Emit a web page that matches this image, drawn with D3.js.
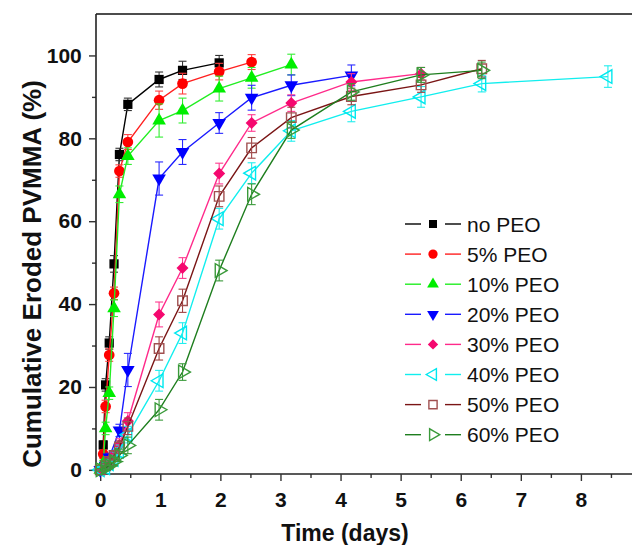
<!DOCTYPE html>
<html>
<head>
<meta charset="utf-8">
<script src="https://cdn.jsdelivr.net/npm/d3@7"></script>
<style>
  body { margin: 0; background: #fff; }
  svg { display: block; font-family: Arial, "Liberation Sans", sans-serif; }
</style>
</head>
<body>
<svg id="chart"></svg>
<script>
// series labels
const labels = ['no PEO', '5% PEO', '10% PEO', '20% PEO', '30% PEO', '40% PEO', '50% PEO', '60% PEO'];

// time (days), eroded (%), error (+/-) per series
const tNo = [0, 0.05, 0.09, 0.15, 0.23, 0.32, 0.46, 0.98, 1.37, 1.98];
const vNo = [0, 6, 20.5, 30.6, 49.7, 76.1, 88.2, 94.2, 96.4, 98.2];
const eNo = [0.3, 1, 1.5, 1.5, 2, 1.5, 1.5, 1.8, 2.2, 1.8];

const t5 = [0, 0.05, 0.09, 0.15, 0.23, 0.32, 0.46, 0.98, 1.37, 1.98, 2.52];
const v5 = [0, 3.8, 15.3, 27.7, 42.6, 72.1, 79.1, 89.2, 93.2, 96.1, 98.4];
const e5 = [0.3, 1, 1.5, 1.5, 1.5, 1.5, 1.8, 2.2, 2.5, 2, 1.8];

const t10 = [0, 0.05, 0.09, 0.15, 0.23, 0.32, 0.46, 0.98, 1.37, 1.98, 2.52, 3.18];
const v10 = [0, 1.5, 10, 18.5, 39, 66.5, 75.7, 84.3, 86.7, 92, 94.6, 97.8];
const e10 = [0.3, 0.8, 1.5, 1.5, 2, 2, 2, 4, 3, 3, 2.5, 2.5];

const t20 = [0, 0.09, 0.15, 0.32, 0.46, 0.98, 1.37, 1.98, 2.52, 3.18, 4.18];
const v20 = [0, 1, 3, 9.5, 24.1, 70.3, 76.7, 83.7, 89.8, 92.8, 95.2];
const e20 = [0.3, 0.5, 1, 1.5, 4, 4, 3, 2.5, 3, 2.5, 2.5];

const t30 = [0, 0.09, 0.15, 0.23, 0.32, 0.46, 0.98, 1.37, 1.98, 2.52, 3.18, 4.18, 5.34];
const v30 = [0, 1, 2, 3.5, 6, 11.8, 37.5, 48.7, 71.5, 83.7, 88.5, 93.6, 95.6];
const e30 = [0.3, 0.5, 0.8, 1, 1.5, 2, 3, 2.5, 2.5, 2, 2, 2, 1.5];

const t40 = [0, 0.09, 0.15, 0.23, 0.32, 0.46, 0.98, 1.37, 1.98, 2.52, 3.18, 4.18, 5.34, 6.35, 8.45];
const v40 = [0, 0.5, 1.5, 2.5, 4.5, 8.5, 21.5, 33, 60.6, 71.6, 81.8, 86.5, 90, 93.2, 94.9];
const e40 = [0.3, 0.5, 0.8, 1, 1.5, 2, 2.5, 2.5, 2.5, 2.5, 2.5, 2.5, 2.5, 2, 2.6];

const t50 = [0, 0.09, 0.15, 0.23, 0.32, 0.46, 0.98, 1.37, 1.98, 2.52, 3.18, 4.18, 5.34, 6.35];
const v50 = [0, 1, 2, 3.5, 5.5, 10.5, 29.3, 40.8, 66, 77.7, 85, 90.1, 92.9, 96.8];
const e50 = [0.3, 0.5, 0.8, 1, 1.5, 2, 2.8, 2.8, 2.5, 2.5, 2.5, 2, 1.8, 2];

const t60 = [0, 0.09, 0.15, 0.23, 0.32, 0.46, 0.98, 1.37, 1.98, 2.52, 3.18, 4.18, 5.34, 6.35];
const v60 = [0, 0.5, 1, 2, 3.5, 5.9, 14.5, 23.6, 48.1, 66.5, 82, 91.2, 95.3, 96.4];
const e60 = [0.3, 0.5, 0.8, 1, 1.5, 2, 2.5, 2, 2.5, 2.5, 2, 2, 1.8, 2];

const xTicks = [0, 1, 2, 3, 4, 5, 6, 7, 8];
const yTicks = [0, 20, 40, 60, 80, 100];

const W = 632, H = 545;
const svg = d3.select('#chart').attr('width', W).attr('height', H);

const x = d3.scaleLinear().domain([-0.07, 9.15]).range([96, 650]);
const y = d3.scaleLinear().domain([-1, 110]).range([474, 14]);

// styles
const styles = [
  { line: '#000000', bar: '#333333', fill: '#000000', shape: d3.symbolSquare, size: 85, rot: 0, open: false },
  { line: '#ff2020', bar: '#ff4040', fill: '#ff0000', shape: d3.symbolCircle, size: 90, rot: 0, open: false },
  { line: '#22ee22', bar: '#33ee33', fill: '#00ee00', shape: d3.symbolTriangle, size: 80, rot: 0, open: false },
  { line: '#1a1aff', bar: '#2a2aff', fill: '#0000ff', shape: d3.symbolTriangle, size: 80, rot: 180, open: false },
  { line: '#ff2a8a', bar: '#ff3a90', fill: '#f5086f', shape: d3.symbolSquare, size: 72, rot: 45, open: false },
  { line: '#11eeee', bar: '#22eeee', fill: '#00e8ef', shape: d3.symbolTriangle, size: 80, rot: -90, open: true },
  { line: '#7a1515', bar: '#a04545', fill: '#a05050', shape: d3.symbolSquare, size: 90, rot: 0, open: true },
  { line: '#1e7e1e', bar: '#3a9a3a', fill: '#3a9a3a', shape: d3.symbolTriangle, size: 80, rot: 90, open: true }
];

const raw = [[tNo, vNo, eNo], [t5, v5, e5], [t10, v10, e10], [t20, v20, e20],
             [t30, v30, e30], [t40, v40, e40], [t50, v50, e50], [t60, v60, e60]];

const series = raw.map((r, i) => ({
  name: labels[i],
  style: styles[i],
  pts: r[0].map((t, j) => ({ t: t, v: r[1][j], e: r[2][j] }))
}));

// axes
const g = svg.append('g');

g.append('line').attr('x1', 96).attr('x2', 660).attr('y1', 14).attr('y2', 14)
  .attr('stroke', '#111').attr('stroke-width', 1.6);

const xAxis = d3.axisBottom(x).tickValues(xTicks).tickSize(7).tickFormat(d3.format('d'));
const xMinor = d3.axisBottom(x).tickValues(d3.range(0.5, 9, 1)).tickSize(4).tickFormat('');
const yAxis = d3.axisLeft(y).tickValues(yTicks).tickSize(7).tickFormat(d3.format('d'));
const yMinor = d3.axisLeft(y).tickValues(d3.range(10, 110, 20)).tickSize(4).tickFormat('');

function styleAxis(sel) {
  sel.select('.domain').attr('stroke', '#222').attr('stroke-width', 1.6);
  sel.selectAll('.tick line').attr('stroke', '#333').attr('stroke-width', 1.4);
  sel.selectAll('.tick text').attr('font-size', 21).attr('font-weight', 'bold')
    .attr('fill', '#111');
}

g.append('g').attr('transform', 'translate(0,474)').call(xMinor).call(styleAxis)
  .select('.domain').remove();
g.append('g').attr('transform', 'translate(96,0)').call(yMinor).call(styleAxis)
  .select('.domain').remove();
const gx = g.append('g').attr('transform', 'translate(0,474)').call(xAxis).call(styleAxis);
gx.select('.domain').attr('d', 'M96,0H660');
gx.selectAll('.tick text').attr('dy', '1.1em');
const gy = g.append('g').attr('transform', 'translate(96,0)').call(yAxis).call(styleAxis);
gy.select('.domain').attr('d', 'M0,14V474');
gy.selectAll('.tick text').attr('dx', '-0.2em');

g.append('text').attr('x', 345).attr('y', 541).attr('text-anchor', 'middle')
  .attr('font-size', 23).attr('font-weight', 'bold').attr('fill', '#111')
  .text('Time (days)');
g.append('text').attr('transform', 'translate(41,274) rotate(-90)')
  .attr('text-anchor', 'middle').attr('font-size', 26).attr('font-weight', 'bold')
  .attr('fill', '#111').text('Cumulative Eroded PVMMA (%)');

// data
const line = d3.line().x(d => x(d.t)).y(d => y(d.v));
const plot = svg.append('g');

function marker(sel, st, k) {
  sel.attr('d', d3.symbol().type(st.shape).size(st.size * (k || 1))())
    .attr('fill', st.open ? '#fff' : st.fill)
    .attr('fill-opacity', st.open ? 0 : 1)
    .attr('stroke', st.open ? st.fill : 'none')
    .attr('stroke-width', 1.4);
}

series.forEach(s => {
  const st = s.style;
  const sg = plot.append('g');
  sg.append('path').datum(s.pts).attr('d', line).attr('fill', 'none')
    .attr('stroke', st.line).attr('stroke-width', 1.4);

  const eb = sg.selectAll('g.eb').data(s.pts).join('g').attr('class', 'eb')
    .attr('stroke', st.bar).attr('stroke-width', 1.1);
  eb.append('line').attr('x1', d => x(d.t)).attr('x2', d => x(d.t))
    .attr('y1', d => y(d.v - d.e)).attr('y2', d => y(d.v + d.e));
  eb.append('line').attr('x1', d => x(d.t) - 4).attr('x2', d => x(d.t) + 4)
    .attr('y1', d => y(d.v + d.e)).attr('y2', d => y(d.v + d.e));
  eb.append('line').attr('x1', d => x(d.t) - 4).attr('x2', d => x(d.t) + 4)
    .attr('y1', d => y(d.v - d.e)).attr('y2', d => y(d.v - d.e));

  sg.selectAll('path.mk').data(s.pts).join('path').attr('class', 'mk')
    .attr('transform', d => `translate(${x(d.t)},${y(d.v)}) rotate(${st.rot})`)
    .call(marker, st);
});

// legend
const leg = svg.append('g');
labels.forEach((name, i) => {
  const st = styles[i];
  const ly = 224 + i * 30.1;
  leg.append('line').attr('x1', 405).attr('x2', 421).attr('y1', ly).attr('y2', ly)
    .attr('stroke', st.line).attr('stroke-width', 1.4);
  leg.append('line').attr('x1', 445).attr('x2', 461).attr('y1', ly).attr('y2', ly)
    .attr('stroke', st.line).attr('stroke-width', 1.4);
  leg.append('path').attr('transform', `translate(433,${ly}) rotate(${st.rot})`)
    .call(marker, st, 0.75);
  leg.append('text').attr('x', 467).attr('y', ly).attr('dy', '0.36em')
    .attr('font-size', 21).attr('fill', '#111').text(name);
});
</script>
</body>
</html>
